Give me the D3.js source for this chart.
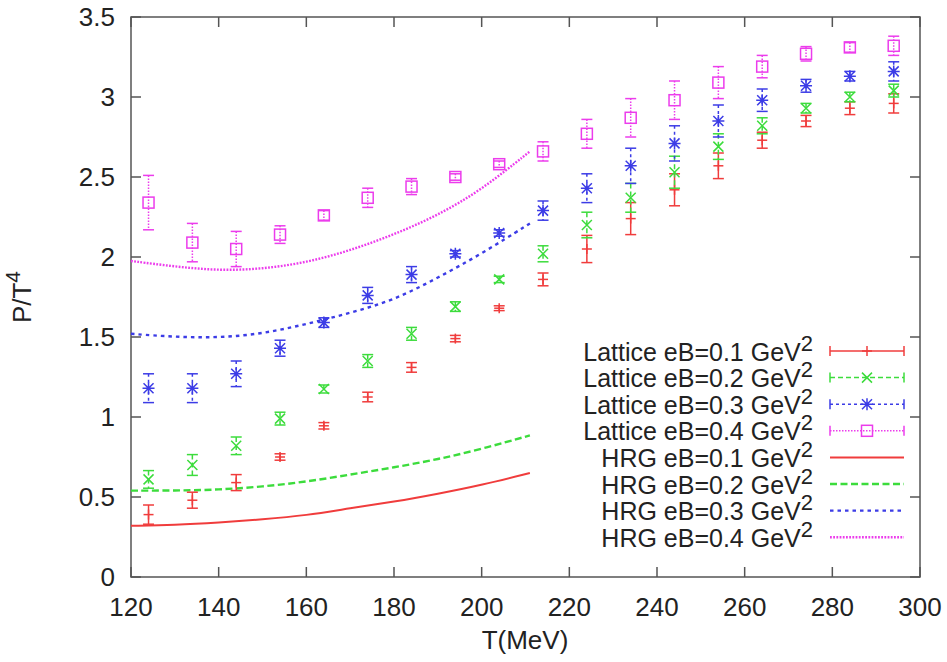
<!DOCTYPE html>
<html><head><meta charset="utf-8">
<script src="https://cdn.jsdelivr.net/npm/d3@7"></script>
<style>body{margin:0;background:#fff}svg{display:block}text{font-family:"Liberation Sans",Arial,sans-serif;fill:#222}</style>
</head><body><svg id="c" width="947" height="662"></svg>
<script>
const temps = [124,134,144,154,164,174,184,194,204,214,224,234,244,254,264,274,284,294];
const lat01 = [0.39,0.48,0.59,0.75,0.945,1.125,1.31,1.49,1.68,1.86,2.05,2.24,2.42,2.57,2.73,2.85,2.93,2.96];
const err01 = [0.06,0.05,0.05,0.02,0.02,0.03,0.03,0.02,0.015,0.04,0.085,0.1,0.1,0.08,0.05,0.035,0.04,0.06];
const lat02 = [0.61,0.70,0.82,0.99,1.175,1.35,1.52,1.69,1.86,2.02,2.2,2.37,2.53,2.69,2.82,2.93,3.0,3.04];
const err02 = [0.055,0.065,0.055,0.04,0.025,0.04,0.04,0.03,0.02,0.05,0.08,0.09,0.1,0.08,0.05,0.03,0.03,0.04];
const lat03 = [1.18,1.18,1.27,1.43,1.59,1.76,1.89,2.02,2.15,2.29,2.43,2.57,2.71,2.85,2.98,3.07,3.13,3.16];
const err03 = [0.09,0.09,0.08,0.05,0.03,0.05,0.05,0.02,0.02,0.06,0.09,0.11,0.11,0.1,0.07,0.04,0.03,0.06];
const lat04 = [2.34,2.09,2.05,2.14,2.26,2.37,2.44,2.5,2.58,2.66,2.77,2.87,2.98,3.09,3.19,3.27,3.31,3.32];
const err04 = [0.17,0.12,0.11,0.055,0.03,0.06,0.05,0.02,0.02,0.06,0.09,0.12,0.12,0.1,0.07,0.045,0.03,0.06];

const hrgT = [120,130,140,150,160,170,180,190,200,211];
const hrg01 = [0.32,0.325,0.34,0.36,0.385,0.43,0.47,0.52,0.575,0.65];
const hrg02 = [0.54,0.54,0.545,0.565,0.595,0.64,0.685,0.735,0.80,0.885];
const hrg03 = [1.52,1.50,1.495,1.52,1.58,1.65,1.73,1.87,2.02,2.21];
const hrg04 = [1.975,1.94,1.915,1.925,1.965,2.04,2.14,2.26,2.42,2.66];

const xTicks = [120,140,160,180,200,220,240,260,280,300];
const yTicks = [0,0.5,1,1.5,2,2.5,3,3.5];
const labels = ["0.1","0.2","0.3","0.4"];

const svg = d3.select("#c");
const L=131, R=920, T=17, B=577;
const x = d3.scaleLinear().domain([120,300]).range([L,R]);
const y = d3.scaleLinear().domain([0,3.5]).range([B,T]);
const axisCol = "#555";
const fs = 26;

const colors = ["#f03c3c","#3cdc3c","#3c3ce6","#ec3cec"];
const errDash = [null,"5,3","3,3","1.5,1.5"];
const hrgDash = [null,"7,3.5","3.5,4","1.8,1.4"];

// frame
svg.append("rect").attr("x",L).attr("y",T).attr("width",R-L).attr("height",B-T)
  .attr("fill","none").attr("stroke",axisCol).attr("stroke-width",1.5);

// ticks
const g = svg.append("g");
xTicks.forEach(t=>{
  g.append("line").attr("x1",x(t)).attr("x2",x(t)).attr("y1",B).attr("y2",B-10).attr("stroke",axisCol).attr("stroke-width",1.5);
  g.append("line").attr("x1",x(t)).attr("x2",x(t)).attr("y1",T).attr("y2",T+10).attr("stroke",axisCol).attr("stroke-width",1.5);
  g.append("text").attr("x",x(t)).attr("y",616).attr("text-anchor","middle").attr("font-size",fs).text(t);
});
yTicks.forEach(t=>{
  g.append("line").attr("x1",L).attr("x2",L+10).attr("y1",y(t)).attr("y2",y(t)).attr("stroke",axisCol).attr("stroke-width",1.5);
  g.append("line").attr("x1",R).attr("x2",R-10).attr("y1",y(t)).attr("y2",y(t)).attr("stroke",axisCol).attr("stroke-width",1.5);
  g.append("text").attr("x",115).attr("y",y(t)+9.3).attr("text-anchor","end").attr("font-size",fs).text(d3.format("")(t));
});

// axis titles
svg.append("text").attr("x",525).attr("y",649).attr("text-anchor","middle").attr("font-size",fs).text("T(MeV)");
const yl = svg.append("text").attr("transform","translate(31,297) rotate(-90)").attr("text-anchor","middle").attr("font-size",fs);
yl.append("tspan").text("P/T");
yl.append("tspan").attr("dy",-11).attr("font-size",21).text("4");

// HRG curves
const line = d3.line().x(d=>x(d[0])).y(d=>y(d[1])).curve(d3.curveBasis);
[hrg01,hrg02,hrg03,hrg04].forEach((arr,i)=>{
  svg.append("path").attr("d",line(hrgT.map((t,j)=>[t,arr[j]])))
    .attr("fill","none").attr("stroke",colors[i]).attr("stroke-width",i===0?2:2.4)
    .attr("stroke-dasharray",hrgDash[i]);
});

// symbols
function drawSymbol(sel,i,cx,cy){
  const c=colors[i];
  if(i===0){
    sel.append("line").attr("x1",cx-5).attr("x2",cx+5).attr("y1",cy).attr("y2",cy).attr("stroke",c).attr("stroke-width",1.5);
    sel.append("line").attr("x1",cx).attr("x2",cx).attr("y1",cy-5).attr("y2",cy+5).attr("stroke",c).attr("stroke-width",1.5);
  } else if(i===1){
    sel.append("path").attr("d",`M${cx-5},${cy-5}L${cx+5},${cy+5}M${cx-5},${cy+5}L${cx+5},${cy-5}`).attr("stroke",c).attr("stroke-width",1.5);
  } else if(i===2){
    sel.append("path").attr("d",`M${cx-5},${cy-5}L${cx+5},${cy+5}M${cx-5},${cy+5}L${cx+5},${cy-5}M${cx},${cy-6}L${cx},${cy+6}M${cx-6},${cy}L${cx+6},${cy}`).attr("stroke",c).attr("stroke-width",1.5);
  } else {
    sel.append("rect").attr("x",cx-5.5).attr("y",cy-5.5).attr("width",11).attr("height",11).attr("fill","none").attr("stroke",c).attr("stroke-width",1.5);
  }
}

// lattice data
const lat=[lat01,lat02,lat03,lat04], err=[err01,err02,err03,err04];
lat.forEach((arr,i)=>{
  const gg = svg.append("g");
  temps.forEach((t,j)=>{
    const cx=x(t), y1=y(arr[j]+err[i][j]), y2=y(arr[j]-err[i][j]);
    gg.append("line").attr("x1",cx).attr("x2",cx).attr("y1",y1).attr("y2",y2).attr("stroke",colors[i]).attr("stroke-width",1.5).attr("stroke-dasharray",errDash[i]);
    [y1,y2].forEach(yy=>gg.append("line").attr("x1",cx-5.5).attr("x2",cx+5.5).attr("y1",yy).attr("y2",yy).attr("stroke",colors[i]).attr("stroke-width",1.5));
    drawSymbol(gg,i,cx,y(arr[j]));
  });
});

// legend
const legY0=351, legDy=26.6, tx=813, s1=830, s2=904, lfs=25;
const legTexts = labels.map(l=>"Lattice eB="+l+" GeV").concat(labels.map(l=>"HRG eB="+l+" GeV"));
legTexts.forEach((txt,k)=>{
  const cy = legY0+k*legDy;
  const t = svg.append("text").attr("x",tx).attr("y",cy+9.5).attr("text-anchor","end").attr("font-size",lfs);
  t.append("tspan").text(txt);
  t.append("tspan").attr("dy",-10).attr("font-size",22).text("2");
  const i = k%4;
  if(k<4){
    svg.append("line").attr("x1",s1).attr("x2",s2).attr("y1",cy).attr("y2",cy).attr("stroke",colors[i]).attr("stroke-width",1.5).attr("stroke-dasharray",errDash[i]);
    [s1,s2].forEach(sx=>svg.append("line").attr("x1",sx).attr("x2",sx).attr("y1",cy-5).attr("y2",cy+5).attr("stroke",colors[i]).attr("stroke-width",1.5));
    drawSymbol(svg,i,(s1+s2)/2,cy);
  } else {
    svg.append("line").attr("x1",s1).attr("x2",s2).attr("y1",cy).attr("y2",cy).attr("stroke",colors[i]).attr("stroke-width",i===0?2:2.4).attr("stroke-dasharray",hrgDash[i]);
  }
});
</script></body></html>
